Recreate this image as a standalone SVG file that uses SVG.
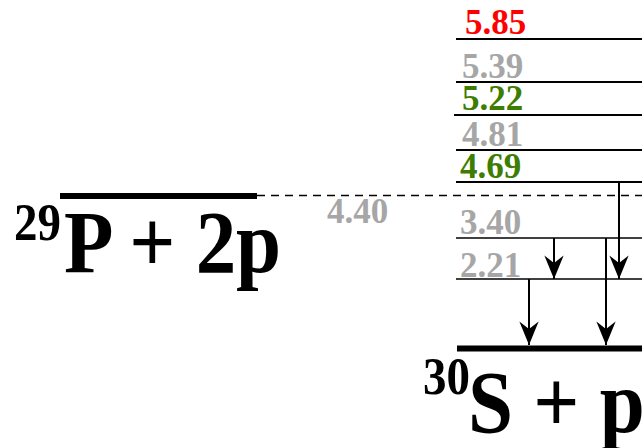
<svg xmlns="http://www.w3.org/2000/svg" width="642" height="448" viewBox="0 0 642 448">
<style>
text{font-family:"Liberation Serif","Times New Roman",serif;font-weight:bold}
.lbl{font-size:35px}
.gray{fill:#a6a6a6}
.green{fill:#3d7d00}
.red{fill:#ff0000}
.lvl{stroke:#000;stroke-width:2.2;fill:none}
.lvlt{stroke:#000;stroke-width:1.5;fill:none}
.thick{stroke:#000;stroke-width:6;fill:none}
.arr{stroke:#000;stroke-width:2;fill:none;marker-end:url(#ah)}
.big{font-size:81px;fill:#000}
.sup{font-size:47px;fill:#000}
</style>
<defs>
<marker id="ah" markerUnits="userSpaceOnUse" orient="auto" refX="0" refY="0" markerWidth="30" markerHeight="30" viewBox="-24 -12 28 24" overflow="visible">
<path d="M0,0 L-22,-9 L-15,0 L-22,9 Z" fill="#000"/>
</marker>
</defs>
<g id="p29">
<line class="thick" x1="60" y1="196" x2="257" y2="196"/>
<text class="sup" transform="translate(14,240) scale(1,1.12)">29</text>
<text class="big" transform="translate(64,272) scale(1,1.1)">P + 2p</text>
</g>
<g id="s30">
<line class="thick" x1="457" y1="348.5" x2="642" y2="348.5"/>
<text class="sup" transform="translate(423,394) scale(1,1.12)">30</text>
<text class="big" transform="translate(468,432) scale(1,1.1)">S + p</text>
</g>
<g id="l585"><line class="lvl" x1="456" y1="39" x2="642" y2="39"/><text class="lbl red" x="465" y="34">5.85</text></g>
<g id="l539"><line class="lvl" x1="456" y1="82" x2="642" y2="82"/><text class="lbl gray" x="462" y="78">5.39</text></g>
<g id="l522"><line class="lvl" x1="454" y1="115" x2="642" y2="115"/><text class="lbl green" x="462" y="110">5.22</text></g>
<g id="l481"><line class="lvl" x1="456" y1="150" x2="642" y2="150"/><text class="lbl gray" x="462" y="146">4.81</text></g>
<g id="l469"><line class="lvl" x1="456" y1="182" x2="642" y2="182"/><text class="lbl green" x="460" y="178">4.69</text></g>
<g id="l440"><text class="lbl gray" x="327" y="223">4.40</text></g>
<g id="l340"><line class="lvlt" x1="456" y1="238" x2="642" y2="238"/><text class="lbl gray" x="460" y="234">3.40</text></g>
<g id="l221"><line class="lvlt" x1="456" y1="279" x2="642" y2="279"/><text class="lbl gray" x="460" y="277">2.21</text></g>
<g id="connectors">
<line x1="257" y1="195.5" x2="642" y2="195.5" stroke="#000" stroke-width="1.5" stroke-dasharray="8,6"/>
<line class="arr" x1="619" y1="182" x2="619" y2="279"/>
<line class="arr" x1="554" y1="238" x2="554" y2="279"/>
<line class="arr" x1="529" y1="279" x2="529" y2="345"/>
<line class="arr" x1="606" y1="238" x2="606" y2="345"/>
</g>
</svg>
